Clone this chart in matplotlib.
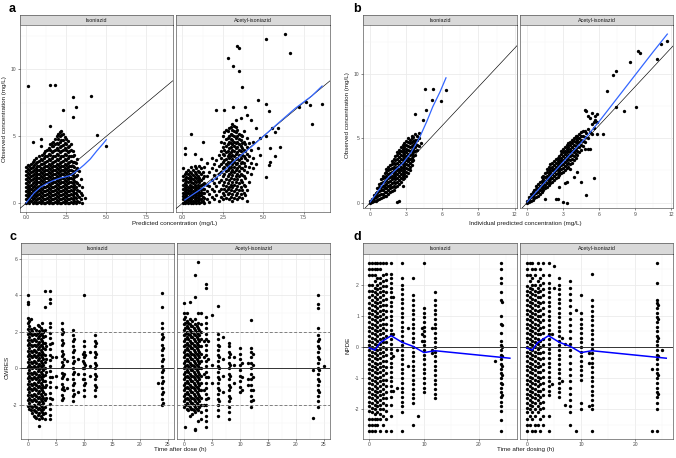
import numpy as np
import matplotlib
matplotlib.use("Agg")
from matplotlib import pyplot as plt

plt.rcParams['font.family'] = ['Liberation Sans', 'DejaVu Sans']

W, H = 676, 458

# ---------------- data (each line: "x: y y y ...") ----------------
facets = ['Isoniazid', 'Acetyl-isoniazid']

# a: observed vs predicted
a_iso = """
0.0: 0.0 0.3 0.6 0.9 1.2 1.5 1.8 2.1 2.4 2.7
0.1: 0.15 0.45 0.75 1.05 1.35 1.65 1.95 2.25 2.55 2.85 8.75
0.2: 0.05 0.35 0.65 0.95 1.25 1.55 1.85 2.15 2.45 2.8
0.3: 0.2 0.5 0.8 1.1 1.4 1.7 2.0 2.3 2.6 2.95
0.4: 0.0 0.3 0.6 0.9 1.2 1.5 1.8 2.1 2.4 2.7 3.1 4.55
0.5: 0.1 0.4 0.7 1.0 1.3 1.6 1.9 2.2 2.5 2.85 3.2
0.6: 0.05 0.25 0.55 0.85 1.15 1.45 1.75 2.05 2.35 2.65 3.0 3.35
0.7: 0.0 0.35 0.65 0.95 1.25 1.55 1.85 2.15 2.45 2.8 3.1
0.8: 0.1 0.4 0.7 1.0 1.3 1.6 1.9 2.2 2.5 2.8 3.15 3.5
0.9: 0.0 0.25 0.55 0.85 1.15 1.45 1.75 2.05 2.35 2.65 2.95 3.3 4.3 4.8
1.0: 0.15 0.45 0.75 1.05 1.35 1.65 1.95 2.25 2.55 2.9 3.2 3.6
1.1: 0.05 0.3 0.6 0.9 1.2 1.5 1.8 2.1 2.4 2.7 3.0 3.4 3.75
1.2: 0.0 0.35 0.65 0.95 1.25 1.55 1.85 2.15 2.45 2.75 3.1 3.5 3.9
1.3: 0.1 0.4 0.7 1.0 1.3 1.6 1.9 2.2 2.5 2.8 3.15 3.55 4.0
1.4: 0.0 0.25 0.55 0.85 1.15 1.45 1.75 2.05 2.35 2.65 2.95 3.3 3.7 4.15
1.5: 0.15 0.45 0.75 1.05 1.35 1.65 1.95 2.25 2.55 2.85 3.2 3.6 4.0 4.4 5.75 8.8
1.6: 0.05 0.3 0.6 0.9 1.2 1.5 1.8 2.1 2.4 2.7 3.0 3.4 3.8 4.25 4.5
1.7: 0.0 0.35 0.65 0.95 1.25 1.55 1.85 2.15 2.45 2.75 3.1 3.5 3.9 4.3 4.6
1.8: 0.1 0.4 0.7 1.0 1.3 1.6 1.9 2.2 2.5 2.8 3.15 3.55 3.95 4.4 4.8 8.85
1.9: 0.0 0.25 0.55 0.85 1.15 1.45 1.75 2.05 2.35 2.65 2.95 3.3 3.7 4.1 4.5 5.0
2.0: 0.15 0.45 0.75 1.05 1.35 1.65 1.95 2.25 2.55 2.85 3.2 3.6 4.0 4.4 4.8 5.2
2.1: 0.05 0.3 0.6 0.9 1.2 1.5 1.8 2.1 2.4 2.7 3.0 3.4 3.8 4.2 4.6 5.0 5.35
2.2: 0.0 0.35 0.65 0.95 1.25 1.55 1.85 2.15 2.45 2.75 3.1 3.5 3.9 4.3 4.7 5.1 5.4
2.3: 0.1 0.4 0.7 1.0 1.3 1.6 1.9 2.2 2.5 2.8 3.15 3.55 3.95 4.35 4.75 5.15 6.95
2.4: 0.0 0.25 0.55 0.85 1.15 1.45 1.75 2.05 2.35 2.65 2.95 3.3 3.7 4.1 4.5 4.95
2.5: 0.15 0.45 0.75 1.05 1.35 1.65 1.95 2.25 2.55 2.85 3.2 3.6 4.0 4.4 4.8
2.6: 0.05 0.3 0.6 0.9 1.2 1.5 1.8 2.1 2.4 2.7 3.0 3.4 3.8 4.2 4.65
2.7: 0.0 0.35 0.65 0.95 1.25 1.55 1.85 2.15 2.45 2.75 3.1 3.5 3.9 4.3
2.8: 0.1 0.4 0.7 1.0 1.3 1.6 1.9 2.2 2.5 2.8 3.15 3.55 4.0 4.45
2.9: 0.0 0.3 0.6 0.9 1.2 1.5 1.8 2.1 2.4 2.75 3.1 3.5 3.9 6.45 7.9
3.0: 0.15 0.45 0.75 1.05 1.35 1.65 1.95 2.3 2.7 3.1 3.6
3.1: 0.05 0.4 0.8 1.2 1.6 2.0 2.5 3.0 7.2
3.2: 0.2 0.6 1.0 1.5 2.1 2.6 3.3
3.3: 0.1 0.5 0.9 1.4 2.4
3.4: 0.3 0.8 1.8
3.5: 0.0 0.6 1.2
3.7: 0.4
4.05: 8.0
4.4: 5.1
4.95: 4.25
"""

a_ace = """
0.05: 0.05 0.3 0.55 0.8 1.1 1.4 1.7 2.0 2.6
0.15: 0.0 0.2 0.45 0.7 0.95 1.2 1.5 1.8 2.2 3.7 4.1
0.25: 0.1 0.35 0.6 0.85 1.1 1.35 1.65 1.95 2.3
0.35: 0.0 0.25 0.5 0.75 1.0 1.25 1.55 1.85 2.15 2.5
0.45: 0.15 0.4 0.65 0.9 1.15 1.4 1.7 2.0 2.35
0.55: 0.05 0.3 0.55 0.8 1.05 1.3 1.6 1.9 2.25 2.7 5.2
0.65: 0.0 0.2 0.45 0.7 0.95 1.2 1.5 1.8 2.1 2.5
0.75: 0.1 0.35 0.6 0.85 1.1 1.35 1.65 1.95 2.3 2.75 3.7
0.85: 0.0 0.25 0.5 0.75 1.0 1.25 1.55 1.85 2.2 2.6
0.95: 0.15 0.4 0.65 0.9 1.15 1.4 1.7 2.0 2.4
1.05: 0.05 0.3 0.55 0.8 1.05 1.3 1.6 1.9 2.3 2.8
1.15: 0.1 0.35 0.6 0.85 1.1 1.4 1.75 2.15 2.6 3.3
1.25: 0.2 0.5 0.8 1.1 1.45 1.85 2.3 4.6
1.35: 0.05 0.4 0.75 1.1 1.5 2.0 2.7
1.5: 0.3 0.9 1.4 2.0 3.0
1.65: 0.1 0.7 1.3 2.3
1.8: 0.5 1.1 1.7 2.6 3.4
1.95: 0.3 0.9 1.5 2.1 2.9
2.1: 0.6 1.3 1.9 2.5 3.2 6.95
2.25: 0.2 0.9 1.6 2.2 2.8 3.6
2.4: 0.5 1.1 1.7 2.3 2.9 3.4 3.9 4.6
2.5: 0.3 0.8 1.4 2.0 2.6 3.1 3.7 4.2 5.0
2.6: 0.6 1.1 1.6 2.2 2.7 3.2 3.6 4.0 4.5 5.3 6.95
2.7: 0.4 0.9 1.3 1.8 2.4 2.9 3.3 3.8 4.3 4.8 5.5
2.8: 0.7 1.1 1.5 2.0 2.5 2.8 3.1 3.5 3.9 4.4 4.9 5.4 10.85
2.9: 0.3 0.8 1.2 1.7 2.2 2.6 3.0 3.4 3.7 4.1 4.6 5.0 5.6
3.0: 0.5 1.0 1.4 1.9 2.3 2.7 3.1 3.5 3.8 4.2 4.5 4.8 5.2 5.7
3.1: 0.2 0.7 1.2 1.6 2.1 2.5 2.9 3.3 3.6 4.0 4.4 4.7 5.1 5.5 5.9
3.15: 10.25 7.2
3.2: 0.4 0.9 1.4 1.8 2.3 2.7 3.1 3.5 3.9 4.3 4.6 5.0 5.4 5.8
3.3: 0.6 1.1 1.6 2.0 2.5 2.9 3.3 3.7 4.1 4.5 4.9 5.3 5.7 6.2
3.4: 0.3 0.8 1.3 1.8 2.2 2.6 3.0 3.4 3.8 4.2 4.6 5.0 5.5 11.75
3.5: 0.5 1.0 1.5 2.0 2.4 2.8 3.2 3.6 4.0 4.4 4.8 5.2 11.6 9.9
3.6: 0.7 1.2 1.7 2.2 2.6 3.0 3.4 3.9 4.3 4.7 5.1 6.4
3.7: 0.4 1.0 1.6 2.1 2.6 3.1 3.6 4.1 4.5 5.0 8.7
3.8: 0.8 1.4 2.0 2.5 3.0 3.5 4.0 4.6 5.4
3.9: 0.6 1.3 1.9 2.8 3.4 3.9 4.4 7.15
4.0: 0.2 1.0 2.3 3.2 3.7 4.2 4.9 6.6
4.1: 1.6 2.7 3.5 4.5
4.25: 2.2 3.0 4.0 6.2
4.4: 2.6 3.4 4.6
4.55: 2.9 5.6
4.65: 7.7 4.1
4.8: 3.6 4.9
5.15: 7.4 5.0
5.2: 12.25 1.95
5.35: 2.85 6.9
5.45: 4.15 3.05
5.55: 5.6
5.75: 3.5 5.3
5.9: 5.6
6.05: 4.2
6.35: 12.65
6.65: 11.2
7.25: 7.15
7.65: 7.55
7.9: 7.35
8.0: 5.95
8.65: 7.4
"""

# b: observed vs individual predicted
b_iso = """
0.0: 0.0 0.15
0.15: 0.05 0.3
0.3: 0.1 0.35 0.6
0.45: 0.15 0.45 0.75
0.6: 0.2 0.5 0.8 1.1
0.75: 0.3 0.6 0.9 1.2 1.45
0.9: 0.35 0.65 0.95 1.25 1.55 1.8
1.05: 0.4 0.7 1.0 1.3 1.6 1.9 2.1
1.2: 0.5 0.8 1.1 1.4 1.7 2.0 2.3
1.35: 0.55 0.85 1.15 1.45 1.75 2.05 2.35 2.6
1.5: 0.7 1.0 1.3 1.6 1.9 2.2 2.5 2.8
1.65: 0.8 1.1 1.4 1.7 2.0 2.3 2.6 2.9
1.8: 0.9 1.2 1.5 1.8 2.1 2.4 2.7 3.0 3.25
1.95: 1.0 1.3 1.6 1.9 2.2 2.5 2.8 3.1 3.4
2.1: 1.2 1.5 1.8 2.1 2.4 2.7 3.0 3.3 3.6
2.25: 0.05 1.3 1.6 1.9 2.2 2.5 2.8 3.1 3.4 3.7 3.9
2.4: 0.1 1.45 1.75 2.05 2.35 2.65 2.95 3.25 3.55 3.85 4.1
2.55: 1.6 1.9 2.2 2.5 2.8 3.1 3.4 3.7 4.0 4.3
2.7: 1.3 1.8 2.1 2.4 2.7 3.0 3.3 3.6 3.9 4.2 4.5
2.85: 1.95 2.25 2.55 2.85 3.15 3.45 3.75 4.05 4.35 4.6
3.0: 2.1 2.4 2.7 3.0 3.3 3.6 3.9 4.2 4.5 4.8
3.15: 2.3 2.6 2.9 3.2 3.5 3.8 4.1 4.4 4.7 5.0
3.3: 2.5 2.8 3.1 3.4 3.7 4.0 4.3 4.6 4.9
3.45: 2.9 3.2 3.5 3.8 4.1 4.4 4.7 5.0 5.2
3.6: 3.3 3.6 3.9 4.2 4.5 4.8 5.1
3.75: 3.7 4.0 4.3 4.6 4.9 5.3 6.9
3.9: 4.1 4.5 4.9 5.2
4.05: 4.4 5.0 5.4
4.2: 4.6
4.35: 6.4
4.55: 8.85
4.6: 7.2
5.15: 8.0
5.25: 8.8
5.9: 7.9
6.3: 8.75
"""

b_ace = """
0.0: 0.0 0.15
0.15: 0.05 0.25 0.45
0.3: 0.15 0.4 0.65
0.45: 0.2 0.5 0.8
0.6: 0.35 0.65 0.95
0.75: 0.45 0.75 1.05 1.3
0.9: 0.55 0.85 1.15 1.45
1.05: 0.7 1.0 1.3 1.6
1.2: 0.8 1.1 1.4 1.7 2.0
1.35: 0.95 1.25 1.55 1.85 2.1
1.5: 0.3 1.1 1.4 1.7 2.0 2.3
1.65: 1.2 1.5 1.8 2.1 2.4 2.6
1.8: 1.35 1.65 1.95 2.25 2.55 2.8
1.95: 1.5 1.8 2.1 2.4 2.7 3.0
2.1: 1.6 1.9 2.2 2.5 2.8 3.1
2.25: 1.75 2.05 2.35 2.65 2.95 3.25
2.4: 0.3 1.9 2.2 2.5 2.8 3.1 3.4
2.55: 0.25 2.0 2.3 2.6 2.9 3.2 3.5
2.7: 1.2 2.15 2.45 2.75 3.05 3.35 3.65
2.85: 2.3 2.6 2.9 3.2 3.5 3.8 4.0
3.0: 0.05 2.4 2.7 3.0 3.3 3.6 3.9 4.2
3.15: 1.5 2.55 2.85 3.15 3.45 3.75 4.05 4.3
3.3: 0.0 1.6 2.7 3.0 3.3 3.6 3.9 4.2 4.45
3.45: 2.8 3.1 3.4 3.7 4.0 4.3 4.6
3.6: 2.6 3.0 3.3 3.6 3.9 4.2 4.5 4.75
3.75: 3.1 3.4 3.7 4.0 4.3 4.6 4.9
3.9: 2.0 3.3 3.6 3.9 4.2 4.5 4.8 5.0
4.05: 3.5 3.8 4.1 4.4 4.7 5.0 5.2
4.2: 2.4 3.7 4.0 4.3 4.6 4.9 5.2
4.35: 3.9 4.3 4.7 5.0 5.3
4.5: 1.6 4.1 4.5 4.9 5.2 5.5
4.65: 4.4 4.8 5.2 5.6
4.8: 4.2 4.7 5.1 5.6 7.2
4.9: 0.6 5.4 7.1
5.1: 4.2 5.0 5.7 6.7
5.25: 4.15 5.5 6.6
5.4: 5.3 6.1 6.95
5.55: 1.9 5.8 6.3
5.7: 6.4 6.75
5.85: 5.3 6.3 6.9
6.3: 5.3
6.7: 8.7
7.2: 9.9
7.45: 10.25 7.4
8.1: 7.15
8.55: 10.9
9.05: 7.45
9.25: 11.75
9.45: 11.65
10.85: 11.15
11.2: 12.3
11.7: 12.6
"""

# c: CWRES vs time after dose
c_iso = """
0.0: -2.05 -1.75 -1.45 -1.15 -0.85 -0.55 -0.25 0.05 0.35 0.65 0.95 1.25 1.55 1.85 2.15 2.45 2.75 3.5 3.6 4.0
0.25: -2.2 -1.9 -1.6 -1.3 -1.0 -0.7 -0.4 -0.1 0.2 0.5 0.8 1.1 1.4 1.7 2.0 2.3 2.6
0.5: -2.3 -2.05 -1.75 -1.45 -1.15 -0.85 -0.55 -0.25 0.05 0.35 0.65 0.95 1.25 1.55 1.85 2.15 2.7
0.75: -2.45 -2.1 -1.8 -1.5 -1.2 -0.9 -0.6 -0.3 0.0 0.3 0.6 0.9 1.2 1.5 1.8 2.05
1.0: -2.6 -2.3 -2.0 -1.7 -1.4 -1.1 -0.8 -0.5 -0.2 0.1 0.4 0.7 1.0 1.3 1.6 1.9 2.2
1.25: -2.65 -2.35 -2.05 -1.75 -1.45 -1.15 -0.85 -0.55 -0.25 0.05 0.35 0.65 0.95 1.25 1.55 1.85
1.5: -2.7 -2.4 -2.1 -1.8 -1.5 -1.2 -0.9 -0.6 -0.3 0.0 0.3 0.6 0.9 1.2 1.5 1.8 2.1
1.75: -2.55 -2.25 -1.95 -1.65 -1.35 -1.05 -0.75 -0.45 -0.15 0.15 0.45 0.75 1.05 1.35 1.65 1.95 2.35
2.0: -3.15 -2.75 -2.45 -2.15 -1.85 -1.55 -1.25 -0.95 -0.65 -0.35 -0.05 0.25 0.55 0.85 1.15 1.45 1.75 2.05 2.3
2.25: -2.6 -2.3 -2.0 -1.7 -1.4 -1.1 -0.8 -0.5 -0.2 0.1 0.4 0.7 1.0 1.3 1.6 1.9 2.2
2.5: -2.7 -2.4 -2.1 -1.8 -1.5 -1.2 -0.9 -0.6 -0.3 0.0 0.3 0.6 0.9 1.2 1.5 1.8 2.1 2.5
2.75: -2.5 -2.2 -1.9 -1.6 -1.3 -1.0 -0.7 -0.4 -0.1 0.2 0.5 0.8 1.1 1.4 1.7 2.0
3.0: -2.8 -2.45 -2.1 -1.75 -1.4 -1.05 -0.7 -0.35 0.0 0.35 0.7 1.05 1.4 1.75 2.1 3.35 4.2
3.25: -1.6 -0.9 -0.2 0.5 1.2
4.0: -2.8 -2.55 -2.25 -1.95 -1.65 -1.35 -1.05 -0.75 -0.45 -0.15 0.15 0.45 0.75 1.05 1.35 1.65 1.95 2.25 2.5 3.55 3.8 4.25
4.2: -1.7 -0.5 0.6 1.4
5.0: -1.0 -0.4 0.6
6.0: -1.75 -1.45 -1.15 -0.85 -0.55 -0.25 0.05 0.35 0.65 0.95 1.25 1.55 1.85 2.15 2.5
6.2: -1.6 -1.0 -0.4 0.2 0.8 1.4 2.0
6.5: -1.2 -0.3 0.5
7.0: -1.1 -0.6 0.4
8.0: -1.8 -1.5 -1.2 -0.9 -0.6 -0.3 0.0 0.3 0.6 0.9 1.2 1.5 1.8 2.1
8.2: -1.4 -0.8 -0.2 0.4 1.0 1.6
9.0: -1.3 -0.3 0.5
9.8: -0.6 0.0 0.4 0.8
10.0: -1.5 -1.2 -0.9 -0.6 -0.3 0.0 0.3 0.6 0.9 1.2 1.5 4.0
10.2: -0.8 0.2 0.7
11.0: -0.4 0.1 0.9
12.0: -1.5 -1.2 -0.9 -0.6 -0.3 0.0 0.3 0.6 0.9 1.2 1.5 1.8
12.2: -1.0 -0.4 0.2 0.8 1.4
23.2: -0.8
24.0: -2.0 -1.7 -1.4 -1.1 -0.8 -0.5 -0.2 0.1 0.4 0.7 1.0 1.3 1.6 1.9 2.2 2.5 3.35 4.1
24.2: -1.9 -1.3 -0.7 -0.1 0.5 1.1 1.7
"""

c_ace = """
0.0: -2.1 -1.8 -1.5 -1.2 -0.9 -0.6 -0.3 0.0 0.3 0.6 0.9 1.2 1.5 1.8 2.1 2.4 2.7 3.0 3.55
0.25: -3.2 -2.0 -1.7 -1.4 -1.1 -0.8 -0.5 -0.2 0.1 0.4 0.7 1.0 1.3 1.6 1.9 2.2 2.5 2.8
0.5: -2.2 -1.9 -1.6 -1.3 -1.0 -0.7 -0.4 -0.1 0.2 0.5 0.8 1.1 1.4 1.7 2.0 2.3 2.6 3.0
0.75: -2.3 -2.0 -1.7 -1.4 -1.1 -0.8 -0.5 -0.2 0.1 0.4 0.7 1.0 1.3 1.6 1.9 2.2 2.5
1.0: -2.6 -2.1 -1.8 -1.5 -1.2 -0.9 -0.6 -0.3 0.0 0.3 0.6 0.9 1.2 1.5 1.8 2.1 2.4 2.7 3.6
1.25: -2.2 -1.9 -1.6 -1.3 -1.0 -0.7 -0.4 -0.1 0.2 0.5 0.8 1.1 1.4 1.7 2.0 2.3
1.5: -2.5 -2.2 -1.9 -1.6 -1.3 -1.0 -0.7 -0.4 -0.1 0.2 0.5 0.8 1.1 1.4 1.7 2.0 2.3 2.6
1.75: -2.3 -2.0 -1.7 -1.4 -1.1 -0.8 -0.5 -0.2 0.1 0.4 0.7 1.0 1.3 1.6 1.9 2.2
2.0: -3.4 -3.3 -2.4 -2.1 -1.8 -1.5 -1.2 -0.9 -0.6 -0.3 0.0 0.3 0.6 0.9 1.2 1.5 1.8 2.1 2.4 2.7 3.9 5.1
2.25: -2.2 -1.9 -1.6 -1.3 -1.0 -0.7 -0.4 -0.1 0.2 0.5 0.8 1.1 1.4 1.7 2.0 2.3
2.5: -2.9 -2.3 -2.0 -1.7 -1.4 -1.1 -0.8 -0.5 -0.2 0.1 0.4 0.7 1.0 1.3 1.6 1.9 2.2 2.5 3.0 5.8
2.75: -2.1 -1.8 -1.5 -1.2 -0.9 -0.6 -0.3 0.0 0.3 0.6 0.9 1.2 1.5 1.8 2.1
3.0: -2.8 -2.4 -2.0 -1.6 -1.2 -0.8 -0.4 0.0 0.4 0.8 1.2 1.6 2.0 2.4 3.0
3.5: -2.0 -1.2 -0.3 0.6 1.5
4.0: -3.2 -2.9 -2.6 -2.3 -2.0 -1.7 -1.4 -1.1 -0.8 -0.5 -0.2 0.1 0.4 0.7 1.0 1.3 1.6 1.9 2.2 2.5 2.8 4.4 4.6
4.3: -1.6 -0.5 0.5 1.5
5.0: -0.8 0.2 2.9
6.0: -2.6 -2.3 -2.0 -1.7 -1.4 -1.1 -0.8 -0.5 -0.2 0.1 0.4 0.7 1.0 1.3 1.6 1.9 3.4
6.2: -1.8 -1.2 -0.6 0.0 0.6 1.2
7.0: -1.3 -0.4 0.5 1.7
8.0: -2.8 -2.4 -2.1 -1.8 -1.5 -1.2 -0.9 -0.6 -0.3 0.0 0.3 0.6 0.9 1.2 1.4
8.2: -1.6 -1.0 -0.4 0.2 0.8
9.0: -0.8 0.2 0.6
10.0: -1.3 -1.0 -0.7 -0.4 -0.1 0.2 0.5 0.8 1.1
10.3: -1.2 -0.5 0.3
11.5: -0.9 -0.6 0.3
12.0: -2.1 -1.8 -1.5 -1.2 -0.9 -0.6 -0.3 0.0 0.3 0.6 0.9 1.1 2.65
12.3: -1.75 -1.2 -0.5 0.2 0.8
23.0: -2.7 -0.1
24.0: -2.1 -1.8 -1.5 -1.2 -0.9 -0.6 -0.3 0.0 0.3 0.6 0.9 1.2 1.5 1.8 2.2 3.3 3.5 4.0
24.2: -1.3 -0.7 -0.1 0.5 1.1 1.6
25.0: 0.1
"""

# d: NPDE vs time after dosing
d_iso = """
0.0: -2.7 -2.5 -2.3 -2.05 -1.9 -1.75 -1.6 -1.45 -1.3 -1.15 -1.0 -0.85 -0.7 -0.55 -0.4 -0.25 -0.1 0.05 0.2 0.35 0.5 0.65 0.8 0.95 1.1 1.25 1.4 1.6 1.8 2.0 2.3 2.5 2.7
0.5: -2.7 -2.5 -2.3 -2.1 -1.95 -1.8 -1.65 -1.5 -1.35 -1.2 -1.05 -0.9 -0.75 -0.6 -0.45 -0.3 -0.15 0.0 0.15 0.3 0.45 0.6 0.75 0.9 1.05 1.2 1.35 1.5 1.65 1.8 2.0 2.3 2.5 2.7
1.0: -2.7 -2.5 -2.3 -2.15 -2.0 -1.85 -1.7 -1.55 -1.4 -1.25 -1.1 -0.95 -0.8 -0.65 -0.5 -0.35 -0.2 -0.05 0.1 0.25 0.4 0.55 0.7 0.85 1.0 1.15 1.3 1.45 1.6 1.75 1.9 2.1 2.3 2.5 2.7
1.5: -2.5 -2.3 -2.1 -1.9 -1.75 -1.6 -1.45 -1.3 -1.15 -1.0 -0.85 -0.7 -0.55 -0.4 -0.25 -0.1 0.05 0.2 0.35 0.5 0.65 0.8 0.95 1.1 1.25 1.4 1.55 1.7 1.85 2.0 2.2 2.5 2.7
2.0: -2.7 -2.3 -2.15 -2.0 -1.85 -1.7 -1.55 -1.4 -1.25 -1.1 -0.95 -0.8 -0.65 -0.5 -0.35 -0.2 -0.05 0.1 0.25 0.4 0.55 0.7 0.85 1.0 1.15 1.3 1.45 1.6 1.75 1.9 2.05 2.2 2.5 2.7
2.5: -2.5 -2.2 -2.0 -1.8 -1.65 -1.5 -1.35 -1.2 -1.05 -0.9 -0.75 -0.6 -0.45 -0.3 -0.15 0.0 0.15 0.3 0.45 0.6 0.75 0.9 1.05 1.2 1.35 1.5 1.65 1.8 1.95 2.1 2.3 2.7
3.0: -2.7 -2.3 -2.05 -1.85 -1.65 -1.45 -1.25 -1.05 -0.85 -0.65 -0.45 -0.25 -0.05 0.15 0.35 0.55 0.75 0.95 1.15 1.35 1.55 1.75 1.95 2.15 2.35 2.7
4.0: -2.7 -2.2 -1.85 -1.6 -1.4 -1.25 -1.1 -0.95 -0.8 -0.65 -0.5 -0.35 -0.2 -0.05 0.1 0.25 0.4 0.55 0.7 0.85 1.0 1.15 1.3 1.45 1.6 1.75 1.9 2.05 2.2 2.35 2.7
4.4: -1.4 -0.3 0.4 1.6
5.0: -1.3 -0.1
6.0: -2.7 -2.1 -1.9 -1.75 -1.6 -1.45 -1.3 -1.15 -1.0 -0.85 -0.7 -0.55 -0.4 -0.25 -0.1 0.05 0.2 0.35 0.5 0.65 0.8 0.95 1.1 1.25 1.4 1.55 1.7 1.85 2.0 2.2 2.7
7.0: -0.6 0.6
8.0: -2.5 -1.8 -1.65 -1.5 -1.35 -1.2 -1.05 -0.9 -0.75 -0.6 -0.45 -0.3 -0.15 0.0 0.15 0.3 0.45 0.6 0.75 0.9 1.05 1.2 1.35 1.5 1.65 2.2
8.9: -2.2
9.6: 0.2 0.4 0.6
10.0: -1.45 -1.3 -1.15 -1.0 -0.85 -0.7 -0.55 -0.4 -0.25 -0.1 0.05 0.2 0.35 0.5 0.65 0.8 0.95 1.1 1.25 2.7
11.5: -0.2 -0.1 0.6
12.0: -1.65 -1.5 -1.35 -1.2 -1.05 -0.9 -0.75 -0.6 -0.45 -0.3 -0.15 0.0 0.15 0.3 0.45 0.6 0.75 0.9 1.05 1.2 1.35 1.5 1.75
23.0: -0.45
24.0: -2.7 -2.35 -2.05 -1.9 -1.75 -1.6 -1.45 -1.3 -1.15 -1.0 -0.85 -0.7 -0.55 -0.4 -0.25 -0.1 0.05 0.2 0.45 0.75 1.0 1.5 1.75 2.05 2.2 2.5 2.7
24.2: -1.55 -1.2 -0.9 -0.6 -0.3 0.0 0.7 1.45
"""

d_ace = """
0.0: -2.7 -2.5 -2.3 -2.1 -1.95 -1.8 -1.65 -1.5 -1.35 -1.2 -1.05 -0.9 -0.75 -0.6 -0.45 -0.3 -0.15 0.0 0.15 0.3 0.45 0.6 0.75 0.9 1.05 1.2 1.35 1.5 1.65 1.8 1.95 2.3 2.5 2.7
0.5: -2.5 -2.2 -2.0 -1.85 -1.7 -1.55 -1.4 -1.25 -1.1 -0.95 -0.8 -0.65 -0.5 -0.35 -0.2 -0.05 0.1 0.25 0.4 0.55 0.7 0.85 1.0 1.15 1.3 1.45 1.6 1.75 1.9 2.1 2.3 2.7
1.0: -2.7 -2.3 -2.1 -1.9 -1.75 -1.6 -1.45 -1.3 -1.15 -1.0 -0.85 -0.7 -0.55 -0.4 -0.25 -0.1 0.05 0.2 0.35 0.5 0.65 0.8 0.95 1.1 1.25 1.4 1.55 1.7 1.85 2.0 2.2 2.5 2.7
1.5: -2.7 -2.5 -2.2 -2.0 -1.8 -1.65 -1.5 -1.35 -1.2 -1.05 -0.9 -0.75 -0.6 -0.45 -0.3 -0.15 0.0 0.15 0.3 0.45 0.6 0.75 0.9 1.05 1.2 1.35 1.5 1.65 1.8 2.0 2.3 2.5
2.0: -2.5 -2.1 -1.9 -1.7 -1.55 -1.4 -1.25 -1.1 -0.95 -0.8 -0.65 -0.5 -0.35 -0.2 -0.05 0.1 0.25 0.4 0.55 0.7 0.85 1.0 1.15 1.3 1.45 1.6 1.75 1.9 2.1 2.7
2.5: -2.7 -2.3 -2.0 -1.8 -1.6 -1.4 -1.2 -1.0 -0.8 -0.6 -0.4 -0.2 0.0 0.2 0.4 0.6 0.8 1.0 1.2 1.4 1.6 1.8 2.0 2.2 2.5
3.0: -2.5 -2.2 -1.95 -1.75 -1.55 -1.35 -1.15 -0.95 -0.75 -0.55 -0.35 -0.15 0.05 0.25 0.45 0.65 0.85 1.05 1.25 1.45 1.65 1.85 2.05 2.3 2.7
4.0: -2.7 -2.2 -1.55 -1.4 -1.25 -1.1 -0.95 -0.8 -0.65 -0.5 -0.35 -0.2 -0.05 0.1 0.25 0.4 0.55 0.7 0.85 1.0 1.15 1.3 1.45 1.6 1.75 1.9 2.05 2.3 2.7
4.6: -1.2 0.4
5.0: 1.9 2.6
6.0: -1.6 -1.45 -1.3 -1.15 -1.0 -0.85 -0.7 -0.55 -0.4 -0.25 -0.1 0.05 0.2 0.35 0.5 0.65 0.8 0.95 1.1 1.25 1.4 1.55 1.7 1.85 2.0 2.2
6.5: -1.1 0.3
7.0: -1.85 0.1
8.0: -2.5 -2.1 -1.9 -1.7 -1.5 -1.3 -1.1 -0.9 -0.7 -0.5 -0.3 -0.1 0.1 0.3 0.5 0.7 0.9 1.1 1.3 1.5 1.7 1.9 2.1
9.0: -2.7 1.2
10.0: -2.0 -1.8 -1.05 -0.9 -0.75 -0.6 -0.45 -0.3 -0.15 0.0 0.15 0.3 0.45 0.6 0.75 0.9 1.1 1.65
11.5: -1.9 -0.5 -0.2
12.0: -2.7 -2.0 -1.85 -1.7 -1.55 -1.4 -1.25 -1.1 -0.95 -0.8 -0.65 -0.5 -0.35 -0.2 -0.05 0.1 0.25 0.4 0.55 0.7 0.85 1.0 1.15 1.3 1.5 2.35
23.0: -2.7 -0.7
24.0: -2.7 -2.0 -1.8 -1.6 -1.45 -1.3 -1.15 -1.0 -0.85 -0.7 -0.55 -0.4 -0.25 -0.1 0.05 0.2 0.35 0.5 0.65 0.8 0.95 1.1 1.25 1.4 1.5 2.05 2.7
24.2: -1.5 -0.9 -0.3 0.3 0.9 1.35
25.0: -0.1
"""

# smoother / mean lines
a_iso_fit_x = [0.0, 0.25, 0.5, 0.9, 1.3, 1.7, 2.1, 2.5, 2.8, 3.2, 3.6, 4.0, 4.4, 4.8, 5.0]
a_iso_fit_y = [0.03, 0.4, 0.78, 1.2, 1.48, 1.7, 1.87, 1.98, 2.1, 2.45, 2.85, 3.3, 3.9, 4.45, 4.75]
a_ace_fit_x = [0.15, 0.6, 1.1, 1.6, 2.1, 2.7, 3.2, 3.7, 4.4, 5.2, 6.0, 7.0, 8.0, 8.65]
a_ace_fit_y = [0.25, 0.62, 1.02, 1.45, 1.92, 2.55, 3.15, 3.65, 4.35, 5.2, 6.05, 7.1, 8.0, 8.75]
b_iso_fit_x = [0.0, 0.7, 1.3, 2.0, 2.7, 3.4, 4.1, 4.7, 5.2, 5.8, 6.3]
b_iso_fit_y = [0.05, 0.95, 1.75, 2.45, 3.05, 3.9, 5.05, 6.3, 7.45, 8.6, 9.7]
b_ace_fit_x = [0.0, 1.5, 3.0, 4.5, 5.2, 6.0, 7.5, 9.0, 10.5, 11.7]
b_ace_fit_y = [0.05, 1.6, 3.15, 4.65, 5.39, 6.3, 8.1, 9.9, 11.7, 13.1]
npde_t = [0, 1, 2, 4, 6, 8, 10, 12, 25.7]
npde_mean = [-0.03, -0.1, 0.14, 0.36, 0.15, 0.02, -0.18, -0.12, -0.36]


def cols(text):
    xs, ys = [], []
    for line in text.strip().splitlines():
        t, vals = line.split(':')
        for v in vals.split():
            xs.append(float(t))
            ys.append(float(v))
    return np.array(xs), np.array(ys)


fig = plt.figure(figsize=(W / 100, H / 100), dpi=100)


def px_axes(x0, y0, x1, y1):
    return fig.add_axes([x0 / W, 1 - y1 / H, (x1 - x0) / W, (y1 - y0) / H])


def facet(x0, x1, top, strip_h, bottom, label, lims, xt, xtl, xminor, yt, ytl, yminor, left):
    st = px_axes(x0, top, x1, top + strip_h)
    st.set_facecolor('#D9D9D9')
    st.set_xticks([])
    st.set_yticks([])
    for s in st.spines.values():
        s.set_color('#333333')
        s.set_linewidth(0.4)
    st.text(0.5, 0.47, label, ha='center', va='center', fontsize=3.9,
            color='#1A1A1A', transform=st.transAxes)

    ax = px_axes(x0, top + strip_h, x1, bottom)
    ax.set_xlim(lims[0], lims[1])
    ax.set_ylim(lims[2], lims[3])
    ax.set_xticks(xt)
    ax.set_xticklabels(xtl)
    ax.set_xticks(xminor, minor=True)
    ax.set_yticks(yt)
    ax.set_yticklabels(ytl)
    ax.set_yticks(yminor, minor=True)
    ax.grid(which='major', color='#EBEBEB', lw=0.6)
    ax.grid(which='minor', color='#F4F4F4', lw=0.35)
    ax.set_axisbelow(True)
    ax.tick_params(which='minor', length=0)
    ax.tick_params(which='major', length=1.5, width=0.4, color='#333333',
                   labelsize=3.6, labelcolor='#4D4D4D', pad=1.2)
    if not left:
        ax.tick_params(axis='y', left=False, labelleft=False)
    for s in ax.spines.values():
        s.set_color('#333333')
        s.set_linewidth(0.4)
    return ax


def dots(ax, text):
    x, y = cols(text)
    ax.plot(x, y, 'o', ms=2.4, mew=0, color='black', zorder=2)


label_kw = dict(fontsize=4.5, color='#1A1A1A', ha='center', va='center')
letter_kw = dict(fontsize=9, fontweight='bold', ha='left', va='baseline')

# ---------------- panel a ----------------
a_lims = (-0.4, 9.14, -0.63, 13.33)
a_xt = [0, 2.5, 5, 7.5]
a_xtl = ['0.0', '2.5', '5.0', '7.5']
a_xm = [1.25, 3.75, 6.25, 8.75]
for i, (x0, x1) in enumerate([(19.7, 172.7), (176, 330)]):
    ax = facet(x0, x1, 15.3, 9.4, 211.7, facets[i], a_lims, a_xt, a_xtl, a_xm,
               [0, 5, 10], ['0', '5', '10'], [2.5, 7.5, 12.5], i == 0)
    dots(ax, [a_iso, a_ace][i])
    ax.axline((0, 0), slope=1, color='black', lw=0.45, zorder=3)
    fx = [a_iso_fit_x, a_ace_fit_x][i]
    fy = [a_iso_fit_y, a_ace_fit_y][i]
    ax.plot(fx, fy, color='#3366FF', lw=0.9, zorder=4)

# ---------------- panel b ----------------
b_lims = (-0.57, 12.2, -0.44, 13.83)
for i, (x0, x1) in enumerate([(363.3, 517), (520.3, 673.3)]):
    ax = facet(x0, x1, 15.3, 9.4, 208.3, facets[i], b_lims, [0, 3, 6, 9, 12],
               ['0', '3', '6', '9', '12'], [1.5, 4.5, 7.5, 10.5],
               [0, 5, 10], ['0', '5', '10'], [2.5, 7.5, 12.5], i == 0)
    dots(ax, [b_iso, b_ace][i])
    ax.axline((0, 0), slope=1, color='black', lw=0.45, zorder=3)
    fx = [b_iso_fit_x, b_ace_fit_x][i]
    fy = [b_iso_fit_y, b_ace_fit_y][i]
    ax.plot(fx, fy, color='#3366FF', lw=0.9, zorder=4)

# ---------------- panel c ----------------
c_lims = (-1.2, 26.1, -3.85, 6.25)
for i, (x0, x1) in enumerate([(21.3, 174), (177.3, 330)]):
    ax = facet(x0, x1, 243.3, 10.7, 438.7, facets[i], c_lims, [0, 5, 10, 15, 20, 25],
               ['0', '5', '10', '15', '20', '25'], [2.5, 7.5, 12.5, 17.5, 22.5],
               [-2, 0, 2, 4, 6], ['-2', '0', '2', '4', '6'], [-3, -1, 1, 3, 5], i == 0)
    dots(ax, [c_iso, c_ace][i])
    ax.axhline(0, color='#333333', lw=0.7, zorder=3)
    ax.axhline(2, color='#7F7F7F', lw=0.7, ls=(0, (3, 2)), zorder=3)
    ax.axhline(-2, color='#7F7F7F', lw=0.7, ls=(0, (3, 2)), zorder=3)

# ---------------- panel d ----------------
d_lims = (-1.2, 27.0, -2.94, 2.98)
for i, (x0, x1) in enumerate([(362.7, 517), (520.3, 673.3)]):
    ax = facet(x0, x1, 243.3, 10.7, 438.7, facets[i], d_lims, [0, 10, 20],
               ['0', '10', '20'], [5, 15, 25],
               [-2, -1, 0, 1, 2], ['-2', '-1', '0', '1', '2'],
               [-2.5, -1.5, -0.5, 0.5, 1.5, 2.5], i == 0)
    dots(ax, [d_iso, d_ace][i])
    ax.axhline(0, color='#333333', lw=0.7, zorder=3)
    ax.plot(npde_t, npde_mean, color='blue', lw=1.1, zorder=4)

# ---------------- titles ----------------
def ftext(x, y, s, **kw):
    fig.text(x / W, 1 - y / H, s, **kw)

ftext(175, 224, 'Predicted concentration (mg/L)', **label_kw)
ftext(525, 224, 'Individual predicted concentration (mg/L)', **label_kw)
ftext(180.5, 449, 'Time after dose (h)', **label_kw)
ftext(525.7, 449, 'Time after dosing (h)', **label_kw)
ftext(5, 119, 'Observed concentration (mg/L)', rotation=90, **label_kw)
ftext(347.7, 115, 'Observed concentration (mg/L)', rotation=90, **label_kw)
ftext(7.3, 367, 'CWRES', rotation=90, **label_kw)
ftext(347.7, 345, 'NPDE', rotation=90, **label_kw)

ftext(8.3, 11.7, 'a', **letter_kw)
ftext(353.3, 12.3, 'b', **letter_kw)
ftext(9.3, 240.3, 'c', **letter_kw)
ftext(353.3, 240.3, 'd', **letter_kw)

fig.savefig('out.png', dpi=100)
